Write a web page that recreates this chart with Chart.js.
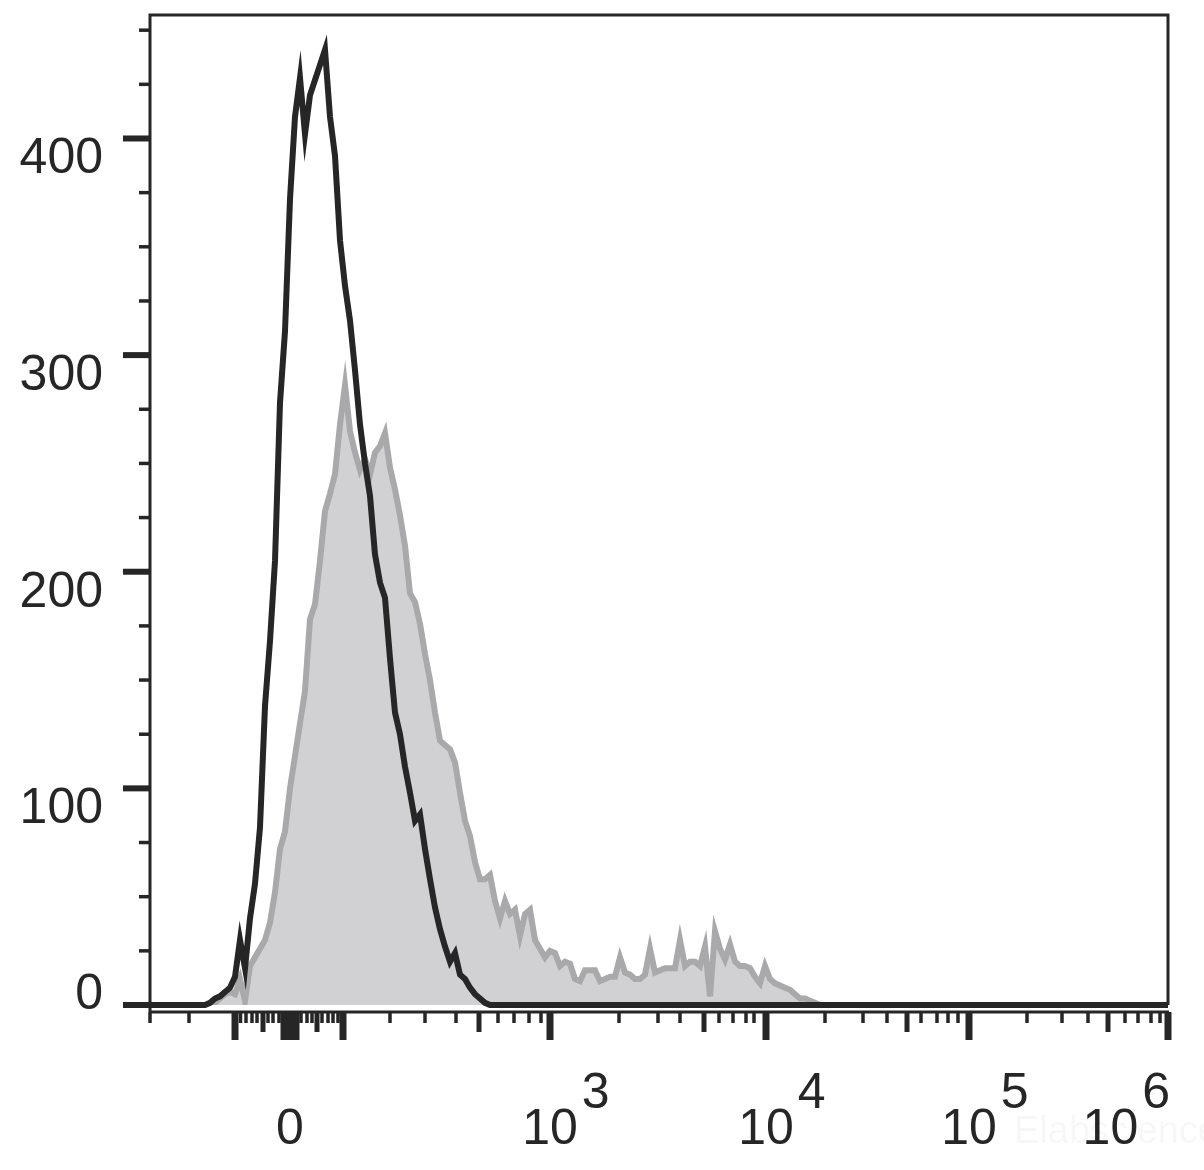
<!DOCTYPE html>
<html>
<head>
<meta charset="utf-8">
<script src="https://cdn.jsdelivr.net/npm/chart.js@4"></script>
<style>
  body { margin: 0; background: #fff; }
</style>
</head>
<body>
<canvas id="myChart" width="1204" height="1170"></canvas>
<script>
// display channels (biexponential scale, 0..1018)
const channels = [0,
  50,55,60,65,70,75,80,85,90,95,
  100,105,110,115,120,125,130,135,140,145,
  150,155,160,165,170,175,180,185,190,195,
  200,205,210,215,220,225,230,235,240,245,
  250,255,260,265,270,275,280,285,290,295,
  300,305,310,315,320,325,330,335,340,345,
  350,355,360,365,370,375,380,385,390,395,
  400,405,410,415,420,425,430,435,440,445,
  450,455,460,465,470,475,480,485,490,495,
  500,505,510,515,520,525,530,535,540,545,
  550,555,560,565,570,575,580,585,590,595,
  600,605,610,615,620,625,630,635,640,645,
  650,655,660,665,670,675,680,
  1018];

// black line (control)
const control = [0,
  0,0,1,3,4,6,8,13,30,17,
  40,56,82,138,168,205,278,311,372,410,
  428,402,420,427,434,441,410,392,353,332,
  316,293,268,250,235,208,195,188,160,135,
  125,110,98,85,88,72,58,45,35,27,
  20,24,14,12,8,5,3,1,0,0,
  0,0,0,0,0,0,0,0,0,0,
  0,0,0,0,0,0,0,0,0,0,
  0,0,0,0,0,0,0,0,0,0,
  0,0,0,0,0,0,0,0,0,0,
  0,0,0,0,0,0,0,0,0,0,
  0,0,0,0,0,0,0,0,0,0,
  0,0,0,0,0,0,0,
  0];

// grey filled (stained)
const stained = [0,
  0,0,0,1,3,5,6,5,12,2,
  18,22,26,30,38,52,72,80,100,115,
  130,145,178,185,205,228,236,245,268,286,
  265,255,247,252,245,255,258,264,248,238,
  226,212,190,186,176,162,150,135,122,120,
  118,112,98,85,78,66,58,58,60,48,
  40,48,42,44,32,42,44,30,26,22,
  25,24,18,20,19,12,11,16,16,16,
  11,12,13,13,22,15,14,12,12,14,
  26,15,16,17,17,17,30,18,20,20,
  18,27,4,34,26,21,28,20,18,18,
  17,13,10,18,12,10,9,8,7,5,
  3,3,2,1,0,0,0,
  0];

// x axis ticks, in channels
const xLongTicks = [85, 134, 140, 146, 193, 400, 616, 819, 1018];
const xMedTicks = [113, 167, 329, 554, 757, 958];
const xShortTicks = [0, 39, 90.5, 96, 102, 107, 118, 123, 129, 151, 157, 162, 172, 178, 183, 188,
  240, 275, 306, 348, 364, 379, 391, 469, 508, 530, 569, 583, 596, 604,
  675, 713, 737, 771, 787, 798, 808, 877, 912, 938, 975, 988, 1001, 1010];
const xLabelPos = [140, 400, 616, 819, 1018];
const xLabelBase = ['0', '10', '10', '10', '10'];
const xLabelExp = ['', '3', '4', '5', '6'];

const yMajor = [0, 100, 200, 300, 400];
const yMinor = [25, 50, 75, 125, 150, 175, 225, 250, 275, 325, 350, 375, 425, 450];

const ink = '#262626';
const font = '"Liberation Sans", Arial, sans-serif';

const axesPlugin = {
  id: 'flowAxes',
  afterDraw(chart) {
    const c = chart.ctx;
    const a = chart.chartArea;
    const xs = chart.scales.x, ys = chart.scales.y;
    const axisY = a.bottom + 7;
    c.save();
    c.strokeStyle = ink;
    c.fillStyle = ink;
    c.lineCap = 'butt';

    // frame
    c.lineWidth = 3;
    c.beginPath();
    c.moveTo(a.left, axisY);
    c.lineTo(a.left, a.top);
    c.lineTo(a.right, a.top);
    c.lineTo(a.right, a.bottom);
    c.stroke();
    c.beginPath();
    c.moveTo(a.left, axisY);
    c.lineTo(a.right + 1, axisY);
    c.stroke();

    // y ticks
    yMajor.forEach(v => {
      const py = ys.getPixelForValue(v);
      c.lineWidth = 6;
      c.beginPath(); c.moveTo(a.left - 27, py); c.lineTo(a.left, py); c.stroke();
    });
    yMinor.forEach(v => {
      const py = ys.getPixelForValue(v);
      c.lineWidth = 3.5;
      c.beginPath(); c.moveTo(a.left - 11, py); c.lineTo(a.left, py); c.stroke();
    });

    // x ticks
    const tick = (list, len, w) => list.forEach(v => {
      const px = xs.getPixelForValue(v);
      c.lineWidth = w;
      c.beginPath(); c.moveTo(px, axisY); c.lineTo(px, axisY + len); c.stroke();
    });
    tick(xShortTicks, 11, 3.5);
    tick(xMedTicks, 20, 5);
    tick(xLongTicks, 28, 7);

    // y labels
    c.font = '50px ' + font;
    c.textAlign = 'right';
    c.textBaseline = 'alphabetic';
    yMajor.forEach(v => {
      const py = ys.getPixelForValue(v);
      c.fillText(String(v), 103, Math.min(py + 35, a.bottom + 4));
    });

    // x labels
    c.textAlign = 'left';
    xLabelPos.forEach((v, i) => {
      const px = xs.getPixelForValue(v);
      const bw = c.measureText(xLabelBase[i]).width;
      const ew = xLabelExp[i] ? c.measureText(xLabelExp[i]).width + 4 : 0;
      let x0 = px - bw / 2;
      if (x0 + bw + ew > chart.width - 34) x0 = chart.width - 34 - bw - ew;
      c.fillText(xLabelBase[i], x0, 1144);
      if (xLabelExp[i]) c.fillText(xLabelExp[i], x0 + bw + 4, 1108);
    });

    // watermark
    c.fillStyle = 'rgba(0,0,0,0.03)';
    c.font = '38px ' + font;
    c.fillText('Elabscience', 1014, 1143);
    c.restore();
  }
};

new Chart(document.getElementById('myChart'), {
  type: 'line',
  data: {
    datasets: [{
      label: 'control',
      data: channels.map((ch, i) => ({ x: ch, y: control[i] })),
      borderColor: ink,
      borderWidth: 6,
      pointRadius: 0,
      tension: 0,
      fill: false,
      clip: false,
      order: 0
    },
    {
      label: 'stained',
      data: channels.map((ch, i) => ({ x: ch, y: stained[i] })),
      borderColor: '#a9a9ab',
      backgroundColor: '#d1d1d3',
      borderWidth: 6,
      pointRadius: 0,
      tension: 0,
      fill: 'origin',
      order: 1
    }]
  },
  options: {
    responsive: false,
    animation: false,
    events: [],
    layout: { padding: { left: 150, right: 36, top: 15, bottom: 165 } },
    plugins: { legend: { display: false }, tooltip: { enabled: false } },
    scales: {
      x: { type: 'linear', min: 0, max: 1018, display: false },
      y: { type: 'linear', min: 0, max: 457, display: false }
    }
  },
  plugins: [axesPlugin]
});
</script>
</body>
</html>
